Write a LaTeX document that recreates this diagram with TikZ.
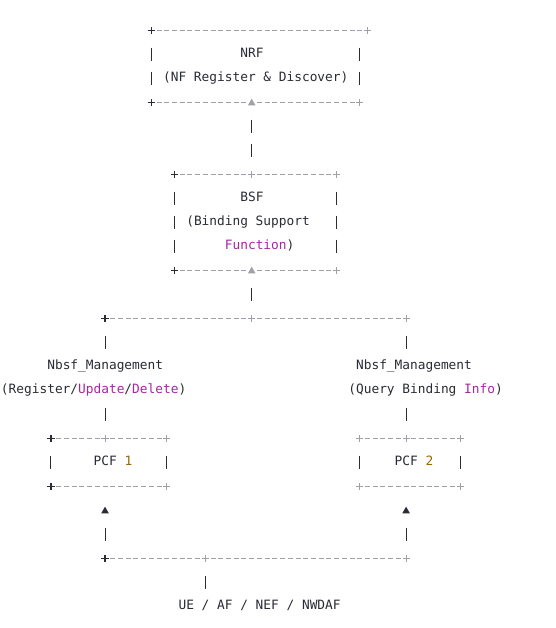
\documentclass[tikz,border=0pt]{standalone}
\usepackage{fontspec}
\newfontfamily\asciimono{DejaVu Sans Mono}
\definecolor{ink}{HTML}{2A2C33}
\definecolor{gry}{HTML}{A0A1A7}
\definecolor{pur}{HTML}{A626A4}
\definecolor{brn}{HTML}{986801}
% name, from col, to col, row
\newcommand\adRow[4]{%
  \coordinate (#1-s) at ({#2-0.5},#4);
  \coordinate (#1-e) at ({#3+0.5},#4);
  \draw[dashln] (#1-s) -- (#1-e);}
% name, col, from row, to row
\newcommand\adBar[4]{%
  \coordinate (#1-s) at (#2,#3);
  \coordinate (#1-e) at (#2,#4);
  \draw[vbar] ([yshift=7pt]#1-s) -- ([yshift=-6.5pt]#1-e);}
% name, col, row, style
\newcommand\adPlus[4]{%
  \coordinate (#1) at (#2,#3);
  \draw[#4] ([xshift=-3.6pt]#1) -- ([xshift=3.6pt]#1)
            ([yshift=-3.4pt]#1) -- ([yshift=3.4pt]#1);}
% name, col, row, colour
\newcommand\adTri[4]{%
  \coordinate (#1) at (#2,#3);
  \fill[#4] ([shift={(-3.8pt,-2.6pt)}]#1) -- ([shift={(3.8pt,-2.6pt)}]#1)
            -- ([shift={(0pt,4pt)}]#1) -- cycle;}
\tikzset{
  txt/.style={font={\asciimono\fontsize{12.82}{15}\selectfont}, text=ink,
              inner sep=0pt, anchor=base west, yshift=-3pt},
  dashln/.style={draw=gry, line width=0.8pt, dash pattern=on 5pt off 2.72pt, dash phase=6.36pt},
  vbar/.style={draw=ink, line width=1.0pt, dash pattern=on 13.5pt off 10.5pt},
  plusk/.style={draw=ink, line width=1.3pt},
  plusg/.style={draw=gry, line width=0.9pt},
}
\begin{document}
\begin{tikzpicture}
\fill[white] (0,0) rectangle (555pt,-628pt);
\useasboundingbox (0,0) rectangle (555pt,-628pt);
\begin{scope}[shift={(4.66pt,-30.7pt)}, x=7.72pt, y=-24pt]
% ---------- NRF box ----------
\adPlus{nrfTL}{19}{0}{plusk}
\adRow{nrfTop}{20}{46}{0}
\adPlus{nrfTR}{47}{0}{plusg}
\adBar{nrfL}{19}{1}{2}
\adBar{nrfR}{46}{1}{2}
\node[txt] (nrf) at (30.5,1) {NRF};
\node[txt] (nrfsub) at (20.5,2) {(NF Register \& Discover)};
\adPlus{nrfBL}{19}{3}{plusk}
\adRow{nrfBotA}{20}{31}{3}
\adTri{nrfArrow}{32}{3}{gry}
\adRow{nrfBotB}{33}{45}{3}
\adPlus{nrfBR}{46}{3}{plusg}
% NRF -- BSF
\adBar{nrfBsf}{32}{4}{5}
% ---------- BSF box ----------
\adPlus{bsfTL}{22}{6}{plusk}
\adRow{bsfTop}{23}{42}{6}
\adPlus{bsfTM}{32}{6}{plusg}
\adPlus{bsfTR}{43}{6}{plusg}
\adBar{bsfL}{22}{7}{9}
\adBar{bsfR}{43}{7}{9}
\node[txt] (bsf) at (30.5,7) {BSF};
\node[txt] (bsfsubA) at (23.5,8) {(Binding Support};
\node[txt] (bsfsubB) at (28.5,9) {\textcolor{pur}{Function})};
\adPlus{bsfBL}{22}{10}{plusk}
\adRow{bsfBotA}{23}{31}{10}
\adTri{bsfArrow}{32}{10}{gry}
\adRow{bsfBotB}{33}{42}{10}
\adPlus{bsfBR}{43}{10}{plusg}
% BSF -- split
\adBar{bsfDown}{32}{11}{11}
\adPlus{splitL}{13}{12}{plusk}
\adRow{splitRow}{14}{51}{12}
\adPlus{splitM}{32}{12}{plusg}
\adPlus{splitR}{52}{12}{plusg}
\adBar{leftA}{13}{13}{13}
\adBar{rightA}{52}{13}{13}
\node[txt] (mgmtL) at (5.5,14) {Nbsf\_Management};
\node[txt] (mgmtLop) at (-0.5,15) {(Register/\textcolor{pur}{Update}/\textcolor{pur}{Delete})};
\node[txt] (mgmtR) at (45.5,14) {Nbsf\_Management};
\node[txt] (mgmtRop) at (44.5,15) {(Query Binding \textcolor{pur}{Info})};
\adBar{leftB}{13}{16}{16}
\adBar{rightB}{52}{16}{16}
% ---------- PCF 1 ----------
\adPlus{p1TL}{6}{17}{plusk}
\adRow{p1Top}{7}{20}{17}
\adPlus{p1TM}{13}{17}{plusg}
\adPlus{p1TR}{21}{17}{plusg}
\adBar{p1L}{6}{18}{18}
\adBar{p1R}{21}{18}{18}
\node[txt] (pcfA) at (11.5,18) {PCF \textcolor{brn}{1}};
\adPlus{p1BL}{6}{19}{plusk}
\adRow{p1Bot}{7}{20}{19}
\adPlus{p1BR}{21}{19}{plusg}
% ---------- PCF 2 ----------
\adPlus{p2TL}{46}{17}{plusg}
\adRow{p2Top}{47}{58}{17}
\adPlus{p2TM}{52}{17}{plusg}
\adPlus{p2TR}{59}{17}{plusg}
\adBar{p2L}{46}{18}{18}
\adBar{p2R}{59}{18}{18}
\node[txt] (pcfB) at (50.5,18) {PCF \textcolor{brn}{2}};
\adPlus{p2BL}{46}{19}{plusg}
\adRow{p2Bot}{47}{58}{19}
\adPlus{p2BR}{59}{19}{plusg}
% ---------- sources ----------
\adTri{upL}{13}{20}{ink}
\adTri{upR}{52}{20}{ink}
\adBar{srcL}{13}{21}{21}
\adBar{srcR}{52}{21}{21}
\adPlus{srcJL}{13}{22}{plusk}
\adRow{srcRow}{14}{51}{22}
\adPlus{srcJM}{26}{22}{plusg}
\adPlus{srcJR}{52}{22}{plusg}
\adBar{srcDown}{26}{23}{23}
\node[txt] (src) at (22.5,24) {UE / AF / NEF / NWDAF};
\end{scope}
\end{tikzpicture}
\end{document}
